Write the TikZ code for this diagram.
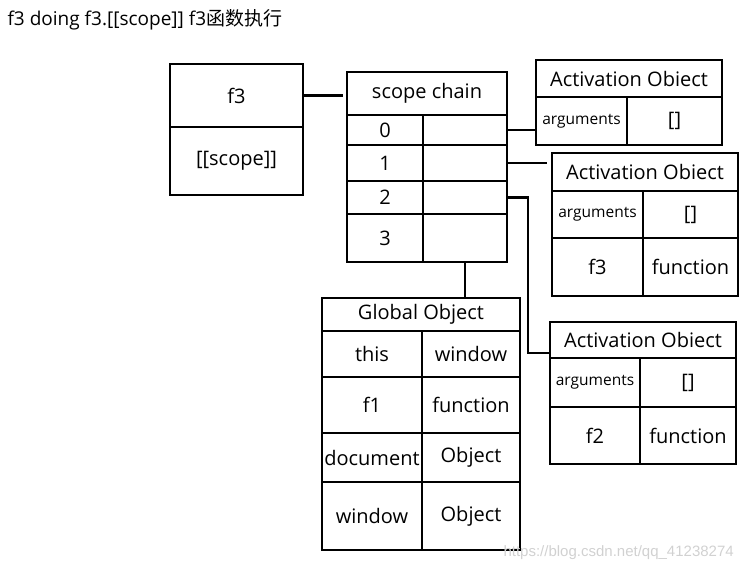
\documentclass[tikz,border=0pt]{standalone}
\usepackage{fontspec}
\setmainfont{Open Sans}
\newfontfamily\cjk{Noto Sans CJK SC}
\newfontfamily\markfont{Liberation Sans}
\usetikzlibrary{positioning}

\begin{document}
\begin{tikzpicture}[x=1pt,y=-1pt,
    cell/.style={draw,line width=2.6pt,outer sep=0pt,inner sep=0pt,anchor=north west,
      font=\fontsize{20}{23}\selectfont},
    small/.style={font=\fontsize{15.5}{18}\selectfont},
    link/.style={line width=2.6pt}]
    \useasboundingbox (0,0) rectangle (751,568);
    \node[anchor=base west,font=\fontsize{19}{22}\selectfont] (title) at (4,25) {f3 doing f3.[[scope]] f3{\cjk 函数执行}};

    % function f3
    \node[cell,minimum width=133pt,minimum height=63pt] (f3name) at (170,64) {f3};
    \node[cell,minimum width=133pt,minimum height=68pt] (f3scope) at (f3name.south west) {[[scope]]};

    % scope chain
    \node[cell,minimum width=160pt,minimum height=43pt] (schead) at (347,72) {scope chain};
    \node[cell,minimum width=76pt,minimum height=30pt] (sc0k) at (schead.south west) {0};
    \node[cell,minimum width=84pt,minimum height=30pt] (sc0v) at (sc0k.north east) {};
    \node[cell,minimum width=76pt,minimum height=36pt] (sc1k) at (sc0k.south west) {1};
    \node[cell,minimum width=84pt,minimum height=36pt] (sc1v) at (sc1k.north east) {};
    \node[cell,minimum width=76pt,minimum height=33pt] (sc2k) at (sc1k.south west) {2};
    \node[cell,minimum width=84pt,minimum height=33pt] (sc2v) at (sc2k.north east) {};
    \node[cell,minimum width=76pt,minimum height=48pt] (sc3k) at (sc2k.south west) {3};
    \node[cell,minimum width=84pt,minimum height=48pt] (sc3v) at (sc3k.north east) {};

    % activation object of f3
    \node[cell,minimum width=186pt,minimum height=37pt] (ao1head) at (536,60) {Activation Obiect};
    \node[cell,small,minimum width=91pt,minimum height=48pt] (ao1arg) at (ao1head.south west) {arguments};
    \node[cell,minimum width=95pt,minimum height=48pt] (ao1val) at (ao1arg.north east) {[]};

    % activation object of f2
    \node[cell,minimum width=186pt,minimum height=38pt] (ao2head) at (552,153) {Activation Obiect};
    \node[cell,small,minimum width=91pt,minimum height=47pt] (ao2arg) at (ao2head.south west) {arguments};
    \node[cell,minimum width=95pt,minimum height=47pt] (ao2val) at (ao2arg.north east) {[]};
    \node[cell,minimum width=91pt,minimum height=58pt] (ao2fn) at (ao2arg.south west) {f3};
    \node[cell,minimum width=95pt,minimum height=58pt] (ao2fnv) at (ao2fn.north east) {function};

    % activation object of f1
    \node[cell,minimum width=186pt,minimum height=36pt] (ao3head) at (550,322) {Activation Obiect};
    \node[cell,small,minimum width=90pt,minimum height=49pt] (ao3arg) at (ao3head.south west) {arguments};
    \node[cell,minimum width=96pt,minimum height=49pt] (ao3val) at (ao3arg.north east) {[]};
    \node[cell,minimum width=90pt,minimum height=57pt] (ao3fn) at (ao3arg.south west) {f2};
    \node[cell,minimum width=96pt,minimum height=57pt] (ao3fnv) at (ao3fn.north east) {function};

    % global object
    \node[cell,minimum width=198pt,minimum height=33pt] (gohead) at (322,298) {Global Object};
    \node[cell,minimum width=100pt,minimum height=46pt] (gothis) at (gohead.south west) {this};
    \node[cell,minimum width=98pt,minimum height=46pt] (gothisv) at (gothis.north east) {window};
    \node[cell,minimum width=100pt,minimum height=56pt] (gof1) at (gothis.south west) {f1};
    \node[cell,minimum width=98pt,minimum height=56pt] (gof1v) at (gof1.north east) {function};
    \node[cell,minimum width=100pt,minimum height=49pt] (godoc) at (gof1.south west) {document};
    \node[cell,minimum width=98pt,minimum height=49pt] (godocv) at (godoc.north east) {Object};
    \node[cell,minimum width=100pt,minimum height=68pt] (gowin) at (godoc.south west) {window};
    \node[cell,minimum width=98pt,minimum height=68pt] (gowinv) at (gowin.north east) {Object};

    \coordinate (bend) at (528,353);
    \draw[link,shorten >=4pt] (f3name.east) -- (f3name.east -| schead.west);
    \draw[link] (sc0v.east) -- (sc0v.east -| ao1arg.west);
    \draw[link,shorten >=5pt] (sc1v.east) -- (sc1v.east -| ao2head.west);
    \draw[link] (sc2v.east) -| (bend) -- (bend -| ao3head.west);
    \draw[link] (sc3v.south) -- (sc3v.south |- gohead.north);

    \node[anchor=base west,text=black!18,font=\markfont\fontsize{15}{18}\selectfont] (mark) at (500,556) {https://blog.csdn.net/qq\_41238274};
  \end{tikzpicture}
\end{document}
